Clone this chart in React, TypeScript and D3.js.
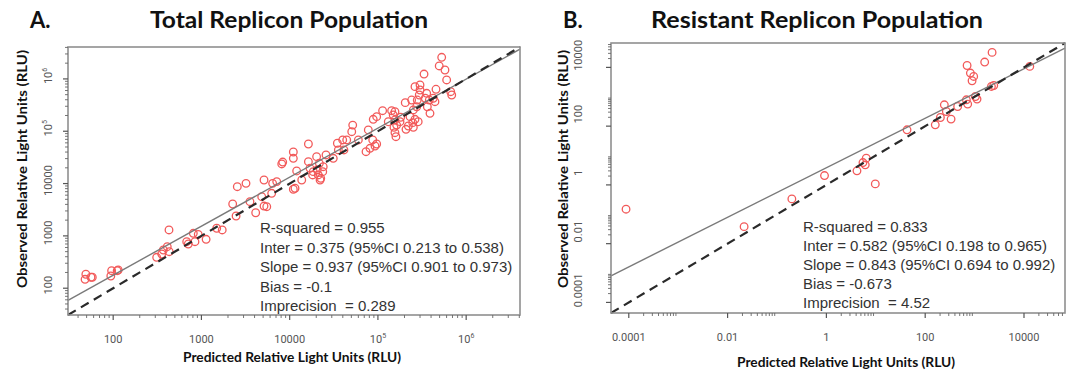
import React from "react";
import * as d3 from "d3";

// Panel A: total replicon population (predicted vs observed RLU)
const totalPredicted = [
  48, 49, 56, 58, 94, 96, 111, 114, 311, 355, 370, 410, 429, 432, 681, 710, 809, 845, 920, 1130,
  1490, 1720, 2260, 2470, 2550, 3200, 3550, 4120, 4820, 5120, 5500, 5120, 6250, 6410, 7130, 11500,
  8130, 8340, 11000, 11000, 12000, 11000, 13700, 22100, 16300, 16300, 17000, 18200, 20200, 20500,
  21700, 22500, 23700, 24000, 25800, 31200, 34700, 39900, 41200, 44300, 50500, 51800, 60000, 73300,
  77800, 81300, 87300, 92700, 96800, 88500, 96800, 113000, 131000, 143000, 149000, 156000, 152000,
  156000, 160000, 163000, 178000, 181000, 204000, 208000, 221000, 231000, 241000, 248000, 252000,
  263000, 275000, 286000, 294000, 300000, 300000, 279000, 333000, 344000, 357000, 363000, 389000,
  382000, 424000, 443000, 455000, 495000, 528000, 575000, 601000, 668000, 686000, 263000, 252000,
  156000, 18500, 21100, 35600,
];
const totalObserved = [
  148, 185, 162, 162, 171, 216, 216, 223, 390, 451, 537, 621, 1300, 499, 774, 700, 1120, 774, 1070, 861,
  1400, 1300, 4070, 2400, 8710, 10100, 4500, 2770, 5610, 3720, 3610, 11700, 6520, 10100, 10900, 8130,
  23700, 25800, 40100, 30400, 17400, 7780, 11700, 11700, 57000, 26200, 19600, 14600, 32700, 18200,
  24400, 12600, 16900, 21000, 35200, 30400, 58900, 68100, 43900, 68100, 98000, 131000, 68100, 40600,
  106000, 47200, 68100, 52200, 57000, 169000, 190000, 247000, 152000, 247000, 205000, 164000, 119000,
  93800, 78700, 131000, 152000, 185000, 352000, 109000, 126000, 190000, 395000, 146000, 255000,
  169000, 294000, 152000, 493000, 614000, 765000, 395000, 1240000, 427000, 531000, 294000, 220000,
  395000, 427000, 367000, 634000, 1770000, 2590000, 1480000, 955000, 570000, 493000, 711000, 119000,
  237000, 16900, 14600, 43900,
];

// Panel B: resistant replicon population
const resistantPredicted = [
  0.000088, 0.0216, 0.2, 0.916, 4.16, 5.5, 6.12, 6.41, 9.77, 42.9, 160, 203, 244, 268, 334, 454,
  682, 725, 705, 822, 958, 889, 1040, 1120, 1600, 2260, 2190, 2440, 13100,
];
const resistantObserved = [
  0.149, 0.038, 0.334, 2.08, 3.01, 5.77, 4.82, 8.15, 1.08, 75, 111, 197, 533, 315, 174, 467,
  789, 563, 11600, 6410, 4910, 3510, 1020, 834, 15200, 32300, 2240, 2420, 10800,
];

const totalTicks = [100, 1000, 10000, 100000, 1000000];
const totalTickLabels = ["100", "1000", "10000", "10^5", "10^6"];
const resistantTicks = [0.0001, 0.01, 1, 100, 10000];
const resistantTickLabels = ["0.0001", "0.01", "1", "100", "10000"];

const totalStats = [
  "R-squared = 0.955",
  "Inter = 0.375 (95%CI 0.213 to 0.538)",
  "Slope = 0.937 (95%CI 0.901 to 0.973)",
  "Bias = -0.1",
  "Imprecision  = 0.289",
];
const resistantStats = [
  "R-squared = 0.833",
  "Inter = 0.582 (95%CI 0.198 to 0.965)",
  "Slope = 0.843 (95%CI 0.694 to 0.992)",
  "Bias = -0.673",
  "Imprecision  = 4.52",
];
const totalFit = { inter: 0.375, slope: 0.937 };
const resistantFit = { inter: 0.582, slope: 0.843 };

const titleFont = "Lato, 'Open Sans', sans-serif";
const tickFont = "'Liberation Sans Narrow', 'Roboto', sans-serif";
const statFont = "'Liberation Sans', Arial, sans-serif";

interface PanelProps {
  letter: string;
  letterX: number;
  title: string;
  titleX: number;
  titleLen: number;
  predicted: number[];
  observed: number[];
  domain: [number, number];
  box: { x0: number; x1: number; y0: number; y1: number };
  ticks: number[];
  tickLabels: string[];
  minorDecades: number[];
  fit: { inter: number; slope: number };
  stats: string[];
  statX: number;
  statY: number;
  statGap: number;
  yTitleX: number;
  yLabelX: number;
  yLabelShift: number;
  xTitleX: number;
  xTitleY: number;
}

const TickLabel = ({ label }: { label: string }) => {
  if (label.includes("^")) {
    const [b, e] = label.split("^");
    return (
      <>
        {b}
        <tspan fontSize={7} dy={-5}>{e}</tspan>
      </>
    );
  }
  return <>{label}</>;
};

const Panel = (p: PanelProps) => {
  const { box } = p;
  const x = d3.scaleLog().domain(p.domain).range([box.x0, box.x1]);
  const y = d3.scaleLog().domain(p.domain).range([box.y1, box.y0]);

  const minor: number[] = [];
  p.minorDecades.forEach((k) => {
    for (let m = 2; m <= 9; m++) {
      const v = m * Math.pow(10, k);
      if (v > p.domain[0] && v < p.domain[1]) minor.push(v);
    }
  });

  const fitY = (v: number) => Math.pow(10, p.fit.inter + p.fit.slope * Math.log10(v));
  const line = d3
    .line<number>()
    .x((d) => x(d))
    .y((d) => y(fitY(d)));
  const idLine = d3
    .line<number>()
    .x((d) => x(d))
    .y((d) => y(d));

  return (
    <g>
      <text x={p.letterX} y={28} fontFamily={titleFont} fontWeight="bold" fontSize={22} fill="#111">
        {p.letter}
      </text>
      <text
        x={p.titleX}
        y={28}
        textAnchor="middle"
        fontFamily={titleFont}
        fontWeight="bold"
        fontSize={22}
        fill="#111"
        textLength={p.titleLen}
        lengthAdjust="spacingAndGlyphs"
      >
        {p.title}
      </text>

      {/* points */}
      {p.predicted.map((d, i) => (
        <circle
          key={i}
          cx={x(d)}
          cy={y(p.observed[i])}
          r={3.8}
          fill="none"
          stroke="#f25a5a"
          strokeWidth={1.3}
        />
      ))}

      <path d={line(p.domain) ?? ""} stroke="#7a7a7a" strokeWidth={1.4} fill="none" />
      <path
        d={idLine(p.domain) ?? ""}
        stroke="#2a2a2a"
        strokeWidth={2.2}
        strokeDasharray="9,6"
        fill="none"
      />

      <rect
        x={box.x0}
        y={box.y0}
        width={box.x1 - box.x0}
        height={box.y1 - box.y0}
        fill="none"
        stroke="#8f8f8f"
        strokeWidth={1.6}
      />

      {/* x axis ticks */}
      {p.ticks.map((t) => (
        <line key={"xm" + t} x1={x(t)} x2={x(t)} y1={box.y1} y2={box.y1 + 5} stroke="#555" strokeWidth={1.2} />
      ))}
      {minor.map((t) => (
        <line key={"xn" + t} x1={x(t)} x2={x(t)} y1={box.y1} y2={box.y1 + 3} stroke="#666" strokeWidth={0.9} />
      ))}
      {p.ticks.map((t, i) => (
        <text
          key={"xl" + t}
          x={x(t)}
          y={box.y1 + 28}
          textAnchor="middle"
          fontFamily={tickFont}
          fontSize={11}
          fill="#555"
        >
          <TickLabel label={p.tickLabels[i]} />
        </text>
      ))}

      {/* y axis ticks */}
      {p.ticks.map((t) => (
        <line key={"ym" + t} y1={y(t)} y2={y(t)} x1={box.x0} x2={box.x0 - 5} stroke="#555" strokeWidth={1.2} />
      ))}
      {minor.map((t) => (
        <line key={"yn" + t} y1={y(t)} y2={y(t)} x1={box.x0} x2={box.x0 - 3} stroke="#666" strokeWidth={0.9} />
      ))}
      {p.ticks.map((t, i) => (
        <text
          key={"yl" + t}
          transform={`translate(${p.yLabelX},${y(t) + p.yLabelShift}) rotate(-90)`}
          textAnchor="middle"
          fontFamily={tickFont}
          fontSize={11}
          fill="#555"
          dy="0.35em"
        >
          <TickLabel label={p.tickLabels[i]} />
        </text>
      ))}

      {/* axis titles */}
      <text
        transform={`translate(${p.yTitleX},169) rotate(-90)`}
        textAnchor="middle"
        dy="0.35em"
        fontFamily={titleFont}
        fontWeight="bold"
        fontSize={14}
        fill="#111"
        textLength={238}
        lengthAdjust="spacingAndGlyphs"
      >
        Observed Relative Light Units (RLU)
      </text>
      <text
        x={p.xTitleX}
        y={p.xTitleY}
        textAnchor="middle"
        fontFamily={titleFont}
        fontWeight="bold"
        fontSize={14}
        fill="#111"
        textLength={218}
        lengthAdjust="spacingAndGlyphs"
      >
        Predicted Relative Light Units (RLU)
      </text>

      {/* stats */}
      {p.stats.map((s, i) => (
        <text
          key={"s" + i}
          x={p.statX}
          y={p.statY + i * p.statGap}
          fontFamily={statFont}
          fontSize={15}
          fill="#333"
          style={{ whiteSpace: "pre" }}
        >
          {s}
        </text>
      ))}
    </g>
  );
};

export default function App() {
  return (
    <svg
      width={1077}
      height={376}
      style={{ position: "absolute", left: 0, top: 0, background: "#fff" }}
    >
      <rect width={1077} height={376} fill="#fff" />
      <Panel
        letter="A."
        letterX={30}
        title="Total Replicon Population"
        titleX={289}
        titleLen={278}
        predicted={totalPredicted}
        observed={totalObserved}
        domain={[Math.pow(10, 1.488), Math.pow(10, 6.61)]}
        box={{ x0: 68, x1: 520, y0: 47, y1: 315 }}
        ticks={totalTicks}
        tickLabels={totalTickLabels}
        minorDecades={[1, 2, 3, 4, 5, 6]}
        fit={totalFit}
        stats={totalStats}
        statX={260}
        statY={233}
        statGap={19.5}
        yTitleX={22}
        yLabelX={48}
        yLabelShift={-3}
        xTitleX={292}
        xTitleY={362}
      />
      <Panel
        letter="B."
        letterX={563}
        title="Resistant Replicon Population"
        titleX={817}
        titleLen={332}
        predicted={resistantPredicted}
        observed={resistantObserved}
        domain={[Math.pow(10, -4.36), Math.pow(10, 4.83)]}
        box={{ x0: 611, x1: 1065, y0: 43, y1: 313 }}
        ticks={resistantTicks}
        tickLabels={resistantTickLabels}
        minorDecades={[-4, -2, 0, 2, 4]}
        fit={resistantFit}
        stats={resistantStats}
        statX={803}
        statY={232}
        statGap={19}
        yTitleX={563}
        yLabelX={578}
        yLabelShift={-12}
        xTitleX={846}
        xTitleY={367}
      />
    </svg>
  );
}
